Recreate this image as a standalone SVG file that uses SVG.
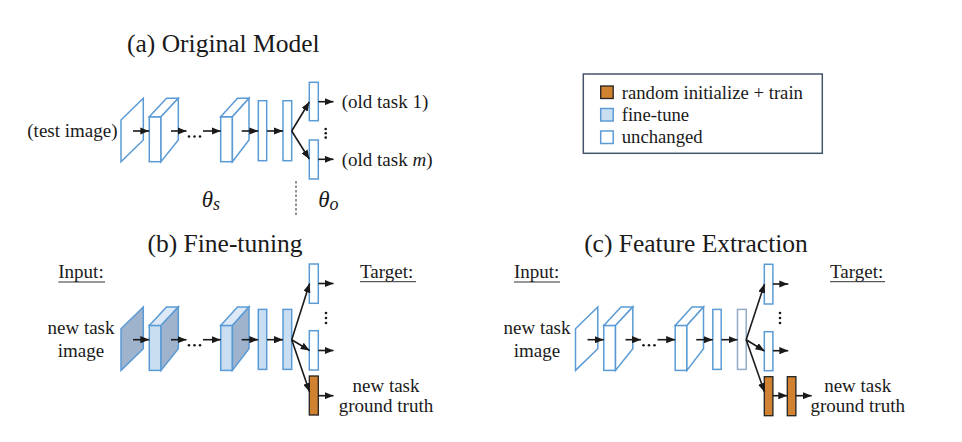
<svg xmlns="http://www.w3.org/2000/svg" width="962" height="442" viewBox="0 0 962 442">
<style>
text{font-family:'Liberation Serif','Times New Roman',serif;fill:#1a1a1a}
.t{font-size:25.5px;text-anchor:middle}
.b{font-size:19px}
.m{text-anchor:middle}
.lg{font-size:18.7px}
.th{font-size:23px;font-style:italic}
.u{fill:#fff;stroke:#5b9bd5;stroke-width:1.5}
.ug{fill:#fff;stroke:#93abc9;stroke-width:1.5}
.f{fill:#cadef2;stroke:#5b9bd5;stroke-width:1.5}
.ft{fill:#dde9f6;stroke:#5b9bd5;stroke-width:1.5}
.fd{fill:#9fb3cd;stroke:#5b9bd5;stroke-width:1.5}
.o{fill:#d08230;stroke:#222;stroke-width:1.3}
.a{stroke:#1a1a1a;stroke-width:1.6;fill:none;marker-end:url(#ah)}
.dot{fill:#1a1a1a}
.ul{stroke:#333;stroke-width:1}
</style>
<defs>
<marker id="ah" viewBox="0 0 10 8" refX="10" refY="4" markerWidth="9" markerHeight="7.2" markerUnits="userSpaceOnUse" orient="auto">
<path d="M0,0 L10,4 L0,8 z" fill="#1a1a1a"/>
</marker>
</defs>

<!-- Titles -->
<text class="t" x="223.3" y="52">(a) Original Model</text>
<text class="t" x="225" y="251.5">(b) Fine-tuning</text>
<text class="t" x="696" y="251.5">(c) Feature Extraction</text>

<!-- Legend -->
<g id="legend">
<rect x="583.3" y="74" width="239" height="79.3" fill="#fff" stroke="#44546a" stroke-width="1.5"/>
<rect class="o" x="600.7" y="86" width="12.5" height="12.5"/>
<rect class="f" x="600.7" y="108.5" width="12.5" height="12.5"/>
<rect class="u" x="600.7" y="131" width="12.5" height="12.5"/>
<text class="lg" x="621.7" y="99.3">random initialize + train</text>
<text class="lg" x="621.7" y="120.7">fine-tune</text>
<text class="lg" x="621.7" y="142.7">unchanged</text>
</g>

<!-- Panel (a) -->
<g id="a-nodes">
<polygon class="u" points="121,120 143.3,98.3 143.3,140 121,161.7"/>
<rect class="u" x="149.3" y="116.7" width="11.7" height="45"/>
<polygon class="u" points="149.3,116.7 166.5,98.3 178.3,98.3 161,116.7"/>
<polygon class="u" points="161,116.7 178.3,98.3 178.3,140 161,161.7"/>
<rect class="u" x="220.7" y="116.7" width="11.7" height="45"/>
<polygon class="u" points="220.7,116.7 237.5,98.3 249,98.3 232.4,116.7"/>
<polygon class="u" points="232.4,116.7 249,98.3 249,140 232.4,161.7"/>
<rect class="u" x="258.3" y="100.7" width="8.4" height="60"/>
<rect class="u" x="283" y="100.7" width="8.7" height="60"/>
<rect class="u" x="309.3" y="82.3" width="9" height="38.4"/>
<rect class="u" x="309.3" y="140" width="9" height="39"/>
</g>
<g id="a-connectors">
<line class="a" x1="133" y1="131" x2="149.3" y2="131"/>
<line class="a" x1="171" y1="131" x2="186.5" y2="131"/>
<line class="a" x1="203" y1="131" x2="220.7" y2="131"/>
<line class="a" x1="241.7" y1="131" x2="258.3" y2="131"/>
<line class="a" x1="267" y1="131" x2="283" y2="131"/>
<line class="a" x1="291.7" y1="131" x2="309.3" y2="102"/>
<line class="a" x1="291.7" y1="131" x2="309.3" y2="159"/>
<line class="a" x1="318.3" y1="101.7" x2="333.5" y2="101.7"/>
<line class="a" x1="318.3" y1="159.3" x2="333.5" y2="159.3"/>
<circle class="dot" cx="189" cy="136.5" r="1.3"/>
<circle class="dot" cx="194.5" cy="136.5" r="1.3"/>
<circle class="dot" cx="200" cy="136.5" r="1.3"/>
<circle class="dot" cx="325.7" cy="129" r="1.3"/>
<circle class="dot" cx="325.7" cy="133.3" r="1.3"/>
<circle class="dot" cx="325.7" cy="137.6" r="1.3"/>
<line x1="296" y1="181" x2="296" y2="217" stroke="#222" stroke-width="1" stroke-dasharray="2.5,2"/>
</g>
<text class="b" x="27.3" y="137">(test image)</text>
<text class="b" x="341.7" y="108">(old task 1)</text>
<text class="b" x="341.7" y="166">(old task <tspan font-style="italic">m</tspan>)</text>
<text class="th" x="201.7" y="206.5">θ<tspan font-size="18" dy="3">s</tspan></text>
<text class="th" x="318.3" y="206.5">θ<tspan font-size="18" dy="3">o</tspan></text>

<!-- Panel (b) -->
<g id="b-nodes" transform="translate(0,208.7)">
<polygon class="fd" points="121,120 143.3,98.3 143.3,140 121,161.7"/>
<rect class="f" x="149.3" y="116.7" width="11.7" height="45"/>
<polygon class="ft" points="149.3,116.7 166.5,98.3 178.3,98.3 161,116.7"/>
<polygon class="fd" points="161,116.7 178.3,98.3 178.3,140 161,161.7"/>
<rect class="f" x="220.7" y="116.7" width="11.7" height="45"/>
<polygon class="ft" points="220.7,116.7 237.5,98.3 249,98.3 232.4,116.7"/>
<polygon class="fd" points="232.4,116.7 249,98.3 249,140 232.4,161.7"/>
<rect class="f" x="258.3" y="100.7" width="8.4" height="60"/>
<rect class="f" x="283" y="100.7" width="8.7" height="60"/>
</g>
<g id="b-heads">
<rect class="u" x="309.3" y="264" width="9" height="39.3"/>
<rect class="u" x="309.3" y="330.7" width="9" height="39.3"/>
<rect class="o" x="309.3" y="376" width="9" height="39"/>
</g>
<g id="b-connectors">
<line class="a" x1="133" y1="339.7" x2="149.3" y2="339.7"/>
<line class="a" x1="171" y1="339.7" x2="186.5" y2="339.7"/>
<line class="a" x1="203" y1="339.7" x2="220.7" y2="339.7"/>
<line class="a" x1="241.7" y1="339.7" x2="258.3" y2="339.7"/>
<line class="a" x1="267" y1="339.7" x2="283" y2="339.7"/>
<line class="a" x1="291.7" y1="339.7" x2="309.6" y2="283.5"/>
<line class="a" x1="291.7" y1="339.7" x2="309.6" y2="350.5"/>
<line class="a" x1="291.7" y1="339.7" x2="309.6" y2="392"/>
<line class="a" x1="318.3" y1="283.5" x2="333.5" y2="283.5"/>
<line class="a" x1="318.3" y1="350.5" x2="333.5" y2="350.5"/>
<line class="a" x1="318.3" y1="395.7" x2="333.5" y2="395.7"/>
<circle class="dot" cx="189" cy="345.2" r="1.3"/>
<circle class="dot" cx="194.5" cy="345.2" r="1.3"/>
<circle class="dot" cx="200" cy="345.2" r="1.3"/>
<circle class="dot" cx="326" cy="313" r="1.3"/>
<circle class="dot" cx="326" cy="318" r="1.3"/>
<circle class="dot" cx="326" cy="323" r="1.3"/>
</g>
<text class="b" x="58.3" y="278">Input:</text>
<line class="ul" x1="58.3" y1="282" x2="105" y2="282"/>
<text class="b m" x="81" y="334">new task</text>
<text class="b m" x="81" y="357">image</text>
<text class="b" x="360" y="278">Target:</text>
<line class="ul" x1="360" y1="281.7" x2="416" y2="281.7"/>
<text class="b m" x="386" y="391.5">new task</text>
<text class="b m" x="386" y="412">ground truth</text>

<!-- Panel (c) -->
<g id="c-nodes" transform="translate(454.5,208.7)">
<polygon class="u" points="121,120 143.3,98.3 143.3,140 121,161.7"/>
<rect class="u" x="149.3" y="116.7" width="11.7" height="45"/>
<polygon class="u" points="149.3,116.7 166.5,98.3 178.3,98.3 161,116.7"/>
<polygon class="u" points="161,116.7 178.3,98.3 178.3,140 161,161.7"/>
<rect class="u" x="220.7" y="116.7" width="11.7" height="45"/>
<polygon class="u" points="220.7,116.7 237.5,98.3 249,98.3 232.4,116.7"/>
<polygon class="u" points="232.4,116.7 249,98.3 249,140 232.4,161.7"/>
<rect class="u" x="258.3" y="100.7" width="8.4" height="60"/>
<rect class="ug" x="283" y="100.7" width="8.7" height="60"/>
</g>
<g id="c-heads">
<rect class="u" x="764.3" y="264.3" width="8.6" height="39.7"/>
<rect class="u" x="764.3" y="331.7" width="8.6" height="39"/>
<rect class="o" x="764.3" y="376.7" width="8.6" height="39"/>
<rect class="o" x="787.3" y="376.7" width="8.6" height="39"/>
</g>
<g id="c-connectors">
<line class="a" x1="587.5" y1="339.7" x2="603.8" y2="339.7"/>
<line class="a" x1="625.5" y1="339.7" x2="641" y2="339.7"/>
<line class="a" x1="657.5" y1="339.7" x2="675.2" y2="339.7"/>
<line class="a" x1="696.2" y1="339.7" x2="712.8" y2="339.7"/>
<line class="a" x1="721.5" y1="339.7" x2="737.5" y2="339.7"/>
<line class="a" x1="746.2" y1="339.7" x2="764.5" y2="284"/>
<line class="a" x1="746.2" y1="339.7" x2="764.5" y2="351"/>
<line class="a" x1="746.2" y1="339.7" x2="764.5" y2="392"/>
<line class="a" x1="772.9" y1="284" x2="788.3" y2="284"/>
<line class="a" x1="772.9" y1="350.7" x2="788.3" y2="350.7"/>
<line class="a" x1="772.9" y1="395.7" x2="787.3" y2="395.7"/>
<line class="a" x1="795.9" y1="395.7" x2="811.7" y2="395.7"/>
<circle class="dot" cx="643.5" cy="345.2" r="1.3"/>
<circle class="dot" cx="649" cy="345.2" r="1.3"/>
<circle class="dot" cx="654.5" cy="345.2" r="1.3"/>
<circle class="dot" cx="780" cy="313" r="1.3"/>
<circle class="dot" cx="780" cy="318" r="1.3"/>
<circle class="dot" cx="780" cy="323" r="1.3"/>
</g>
<text class="b" x="514" y="278">Input:</text>
<line class="ul" x1="514" y1="282" x2="560" y2="282"/>
<text class="b m" x="537" y="334">new task</text>
<text class="b m" x="537" y="357">image</text>
<text class="b" x="830" y="278">Target:</text>
<line class="ul" x1="830" y1="281.7" x2="885" y2="281.7"/>
<text class="b m" x="857.7" y="391.5">new task</text>
<text class="b m" x="857.7" y="412">ground truth</text>
</svg>
